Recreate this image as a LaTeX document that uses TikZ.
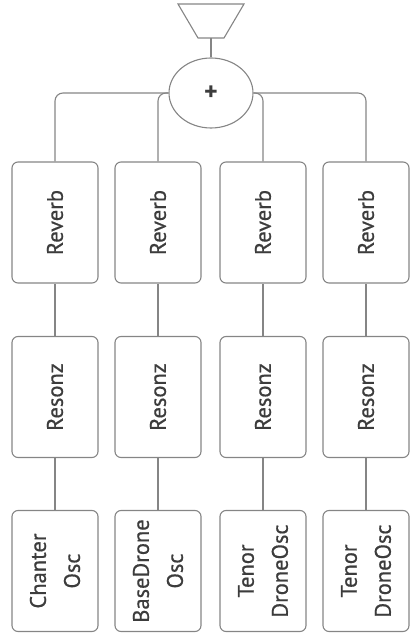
\documentclass[tikz,border=0pt]{standalone}
\usepackage{fontspec}
\setmainfont{PT Sans}
\newfontfamily\lblfont{PT Sans}[FakeBold=0.6]
\usetikzlibrary{shapes.geometric}
\definecolor{ln}{HTML}{858585}
\definecolor{tx}{HTML}{3C3C3C}
\begin{document}
\begin{tikzpicture}[x=1pt,y=-1pt,
  box/.style={draw=ln, line width=1.1pt, rounded corners=6pt, minimum width=86pt, minimum height=121pt, inner sep=0pt},
  lbl/.style={rotate=90, text=tx, font=\lblfont\fontsize{22.5}{34}\selectfont, align=center, inner sep=0pt},
  wire/.style={draw=ln, line width=1.1pt},
  bus/.style={wire, rounded corners=8pt}]
\useasboundingbox (0,0) rectangle (409,636);
% speaker
\draw[wire] (178,4) -- (244,4) -- (224,38) -- (198,38) -- cycle;
\coordinate (spk) at (211,38);
% sum
\node[draw=ln, line width=1.1pt, ellipse, minimum width=84pt, minimum height=70pt, inner sep=0pt] (sum) at (211,93) {};
\node[text=tx, font=\fontsize{26}{28}\selectfont\bfseries] at (sum) {+};
\draw[wire] (spk) -- (sum.north);
% columns
\foreach \i/\x in {1/55,2/158,3/263,4/366}{
  \node[box] (rv\i) at (\x,222.5) {};
  \node[lbl] at (rv\i) {Reverb};
  \node[box] (rz\i) at (\x,397) {};
  \node[lbl] at (rz\i) {Resonz};
  \node[box] (os\i) at (\x,571) {};
  \draw[wire] (os\i.north) -- (rz\i.south);
  \draw[wire] (rz\i.north) -- (rv\i.south);
}
\node[lbl] at (os1) {Chanter\\Osc};
\node[lbl] at (os2) {BaseDrone\\Osc};
\node[lbl] at (os3) {Tenor\\DroneOsc};
\node[lbl] at (os4) {Tenor\\DroneOsc};
\draw[bus] (rv1.north) |- (sum.west);
\draw[bus] (rv2.north) |- (sum.west);
\draw[bus] (rv3.north) |- (sum.east);
\draw[bus] (rv4.north) |- (sum.east);
\end{tikzpicture}
\end{document}
